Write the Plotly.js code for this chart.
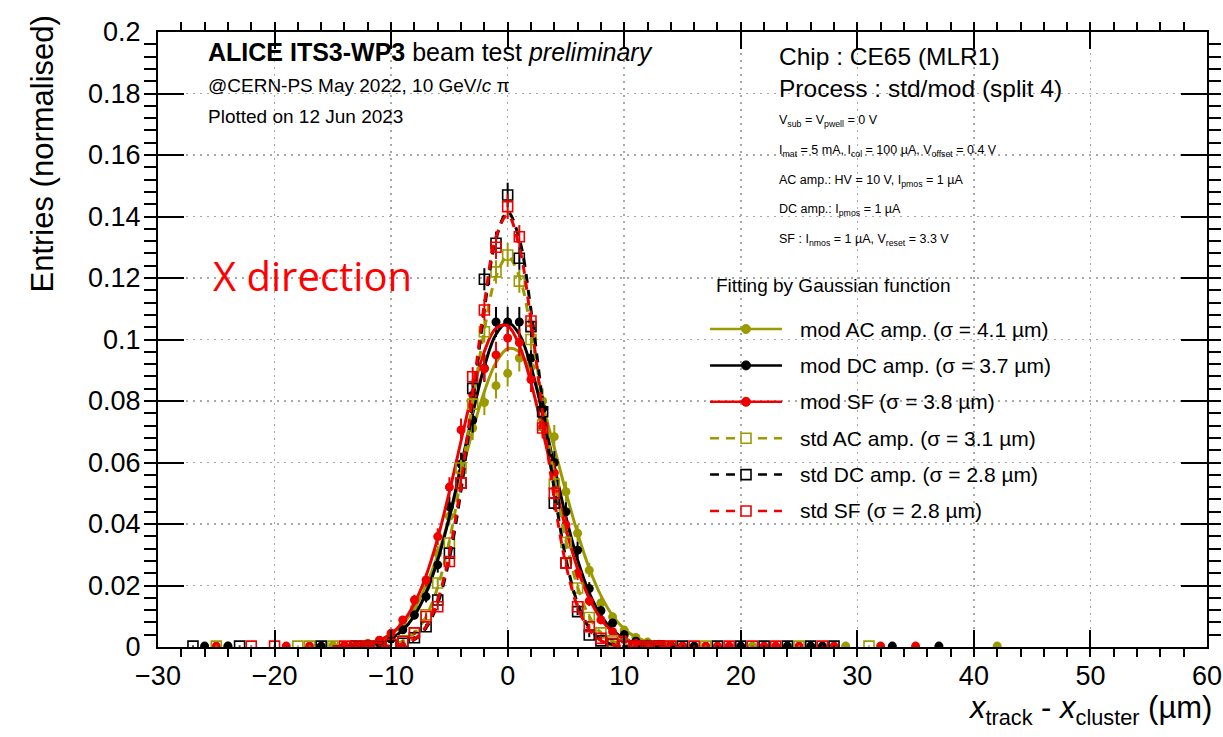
<!DOCTYPE html>
<html><head><meta charset="utf-8">
<script src="https://cdn.plot.ly/plotly-3.0.1.min.js"></script>
<style>html,body{margin:0;padding:0;background:#fff;}#chart{width:1223px;height:737px;}</style>
</head><body><div id="chart"></div>
<script>
// ---------- data ----------
const xCore = [-12,-11,-10,-9,-8,-7,-6,-5,-4,-3,-2,-1,0,1,2,3,4,5,6,7,8,9,10,11,12];

const modAC_y   = [0.0012,0.0021,0.0038,0.0072,0.0128,0.0196,0.0305,0.0425,0.0565,0.0712,0.0795,0.0850,0.0890,0.0940,0.0910,0.0800,0.0684,0.0505,0.0370,0.0250,0.0143,0.0098,0.0055,0.0031,0.0016];
const modAC_err = [0.0005,0.0007,0.0009,0.0012,0.0016,0.0020,0.0025,0.0030,0.0034,0.0039,0.0041,0.0042,0.0043,0.0044,0.0044,0.0041,0.0038,0.0033,0.0028,0.0023,0.0017,0.0014,0.0011,0.0008,0.0006];
const modAC_tailX = [-24,-15,-13,13,14,15,21,29,42];
const modAC_tailY = [0.0003,0.0004,0.0006,0.0009,0.0005,0.0004,0.0003,0.0003,0.0003];
const modAC_tailErr = [0.0002,0.0002,0.0003,0.0003,0.0002,0.0002,0.0002,0.0002,0.0002];

const modDC_y   = [0.0006,0.0012,0.0026,0.0056,0.0104,0.0164,0.0267,0.0456,0.0595,0.0738,0.0907,0.1057,0.1057,0.1057,0.0940,0.0775,0.0600,0.0440,0.0315,0.0190,0.0118,0.0078,0.0040,0.0019,0.0009];
const modDC_err = [0.0004,0.0005,0.0008,0.0011,0.0015,0.0019,0.0025,0.0032,0.0037,0.0041,0.0045,0.0049,0.0049,0.0049,0.0046,0.0042,0.0037,0.0031,0.0027,0.0021,0.0016,0.0013,0.0009,0.0007,0.0005];
const modDC_tailX = [-26,-24,-16,-14,-13,13,14,16,20,24,26,27,33,37];
const modDC_tailY = [0.0003,0.0003,0.0003,0.0003,0.0004,0.0005,0.0004,0.0003,0.0003,0.0003,0.0003,0.0003,0.0003,0.0003];
const modDC_tailErr = [0.0002,0.0002,0.0002,0.0002,0.0002,0.0003,0.0002,0.0002,0.0002,0.0002,0.0002,0.0002,0.0002,0.0002];

const modSF_y   = [0.0010,0.0022,0.0045,0.0088,0.0153,0.0218,0.0359,0.0520,0.0706,0.0820,0.0905,0.0950,0.1005,0.0990,0.0870,0.0715,0.0566,0.0397,0.0240,0.0150,0.0088,0.0050,0.0024,0.0011,0.0005];
const modSF_err = [0.0004,0.0007,0.0009,0.0013,0.0017,0.0021,0.0027,0.0032,0.0037,0.0040,0.0042,0.0043,0.0044,0.0044,0.0041,0.0037,0.0033,0.0028,0.0022,0.0017,0.0013,0.0010,0.0007,0.0005,0.0003];
const modSF_tailX = [-25,-19,-17,-14,-13,13,14,15,17,18,19,22,23,25,28,32,35];
const modSF_tailY = [0.0003,0.0003,0.0003,0.0004,0.0006,0.0004,0.0003,0.0003,0.0003,0.0003,0.0003,0.0003,0.0003,0.0003,0.0003,0.0003,0.0003];
const modSF_tailErr = [0.0002,0.0002,0.0002,0.0002,0.0003,0.0002,0.0002,0.0002,0.0002,0.0002,0.0002,0.0002,0.0002,0.0002,0.0002,0.0002,0.0002];

const stdAC_y   = [0.0002,0.0003,0.0008,0.0020,0.0046,0.0105,0.0208,0.0338,0.0582,0.0790,0.1025,0.1220,0.1275,0.1190,0.1000,0.0722,0.0530,0.0340,0.0192,0.0096,0.0046,0.0020,0.0008,0.0003,0.0002];
const stdAC_err = [0.0002,0.0002,0.0003,0.0005,0.0007,0.0011,0.0016,0.0020,0.0027,0.0031,0.0035,0.0038,0.0039,0.0038,0.0035,0.0030,0.0025,0.0020,0.0015,0.0011,0.0007,0.0005,0.0003,0.0002,0.0002];
const stdAC_tailX = [-25,-18,-17,-15,-13,13,14,17,25,31];
const stdAC_tailY = [0.0003,0.0003,0.0003,0.0003,0.0004,0.0003,0.0003,0.0003,0.0003,0.0003];
const stdAC_tailErr = [0.0002,0.0002,0.0002,0.0002,0.0002,0.0002,0.0002,0.0002,0.0002,0.0002];

const stdDC_y   = [0.0002,0.0003,0.0006,0.0012,0.0030,0.0066,0.0153,0.0305,0.0533,0.0841,0.1196,0.1313,0.1470,0.1264,0.1042,0.0765,0.0468,0.0273,0.0115,0.0039,0.0020,0.0010,0.0005,0.0003,0.0002];
const stdDC_err = [0.0002,0.0002,0.0003,0.0004,0.0006,0.0009,0.0013,0.0018,0.0024,0.0030,0.0036,0.0038,0.0040,0.0037,0.0034,0.0029,0.0023,0.0017,0.0011,0.0007,0.0005,0.0003,0.0002,0.0002,0.0002];
const stdDC_tailX = [-27,-23,-16,-13,13,15,18,20,22,24,26,28];
const stdDC_tailY = [0.0003,0.0003,0.0003,0.0003,0.0003,0.0003,0.0003,0.0003,0.0003,0.0003,0.0003,0.0003];
const stdDC_tailErr = [0.0002,0.0002,0.0002,0.0002,0.0002,0.0002,0.0002,0.0002,0.0002,0.0002,0.0002,0.0002];

const stdSF_y   = [0.0002,0.0004,0.0008,0.0018,0.0046,0.0099,0.0131,0.0278,0.0533,0.0879,0.1096,0.1300,0.1432,0.1334,0.1060,0.0712,0.0500,0.0273,0.0131,0.0066,0.0028,0.0012,0.0005,0.0003,0.0002];
const stdSF_err = [0.0002,0.0002,0.0003,0.0004,0.0007,0.0010,0.0012,0.0017,0.0024,0.0031,0.0035,0.0038,0.0040,0.0038,0.0034,0.0028,0.0023,0.0017,0.0012,0.0009,0.0006,0.0004,0.0002,0.0002,0.0002];
const stdSF_tailX = [-22,-20,-14,-13,13,14,16,19,21,23,27];
const stdSF_tailY = [0.0003,0.0003,0.0003,0.0004,0.0003,0.0003,0.0003,0.0003,0.0003,0.0003,0.0003];
const stdSF_tailErr = [0.0002,0.0002,0.0002,0.0002,0.0002,0.0002,0.0002,0.0002,0.0002,0.0002,0.0002];

// Gaussian fit curves
const fitX = [-15,-14,-13,-12,-11,-10,-9,-8,-7,-6,-5,-4,-3,-2,-1,0,1,2,3,4,5,6,7,8,9,10,11,12,13,14,15];
const modAC_fit = [0.0001,0.0002,0.0005,0.0011,0.0022,0.0042,0.0074,0.0125,0.0199,0.0299,0.0422,0.0561,0.0704,0.0831,0.0925,0.0970,0.0959,0.0893,0.0783,0.0648,0.0504,0.0370,0.0256,0.0167,0.0102,0.0059,0.0032,0.0017,0.0008,0.0004,0.0002];
const modDC_fit = [0,0.0001,0.0002,0.0006,0.0013,0.0027,0.0055,0.0102,0.0176,0.0283,0.0423,0.0588,0.0759,0.0912,0.1017,0.1055,0.1017,0.0912,0.0759,0.0588,0.0423,0.0283,0.0176,0.0102,0.0055,0.0027,0.0013,0.0006,0.0002,0.0001,0];
const modSF_fit = [0.0001,0.0002,0.0004,0.0010,0.0021,0.0043,0.0081,0.0142,0.0232,0.0354,0.0505,0.0670,0.0831,0.0961,0.1037,0.1044,0.0981,0.0860,0.0704,0.0537,0.0383,0.0254,0.0158,0.0091,0.0049,0.0025,0.0012,0.0005,0.0002,0.0001,0];
const stdAC_fit = [0,0,0,0.0001,0.0002,0.0007,0.0019,0.0045,0.0099,0.0195,0.0346,0.0552,0.0795,0.1031,0.1205,0.1270,0.1205,0.1031,0.0795,0.0552,0.0346,0.0195,0.0099,0.0045,0.0019,0.0007,0.0002,0.0001,0,0,0];
const stdDC_fit = [0,0,0,0,0.0001,0.0002,0.0008,0.0024,0.0062,0.0142,0.0287,0.0510,0.0797,0.1096,0.1327,0.1415,0.1327,0.1096,0.0797,0.0510,0.0287,0.0142,0.0062,0.0024,0.0008,0.0002,0.0001,0,0,0,0];
const stdSF_fit = [0,0,0,0,0.0001,0.0002,0.0008,0.0026,0.0067,0.0153,0.0304,0.0533,0.0822,0.1116,0.1334,0.1405,0.1301,0.1061,0.0761,0.0481,0.0267,0.0131,0.0056,0.0021,0.0007,0.0002,0.0001,0,0,0,0];

const legendLabels = ["mod AC amp. (\u03c3 = 4.1 \u00b5m)","mod DC amp. (\u03c3 = 3.7 \u00b5m)","mod SF (\u03c3 = 3.8 \u00b5m)",
                      "std AC amp. (\u03c3 = 3.1 \u00b5m)","std DC amp. (\u03c3 = 2.8 \u00b5m)","std SF (\u03c3 = 2.8 \u00b5m)"];
const xTickVals = [-30,-20,-10,0,10,20,30,40,50,60];
const yTickVals = [0,0.02,0.04,0.06,0.08,0.1,0.12,0.14,0.16,0.18,0.2];

// ---------- styles ----------
const OLIVE = '#9b9b00', BLACK = '#000000', RED = '#ee0000';
const FONT = 'Liberation Sans, Arial, Helvetica, sans-serif';
const series = [
  {y: modAC_y, e: modAC_err, tx: modAC_tailX, ty: modAC_tailY, te: modAC_tailErr, fit: modAC_fit, color: OLIVE, open: false},
  {y: modDC_y, e: modDC_err, tx: modDC_tailX, ty: modDC_tailY, te: modDC_tailErr, fit: modDC_fit, color: BLACK, open: false},
  {y: modSF_y, e: modSF_err, tx: modSF_tailX, ty: modSF_tailY, te: modSF_tailErr, fit: modSF_fit, color: RED, open: false},
  {y: stdAC_y, e: stdAC_err, tx: stdAC_tailX, ty: stdAC_tailY, te: stdAC_tailErr, fit: stdAC_fit, color: OLIVE, open: true},
  {y: stdDC_y, e: stdDC_err, tx: stdDC_tailX, ty: stdDC_tailY, te: stdDC_tailErr, fit: stdDC_fit, color: BLACK, open: true},
  {y: stdSF_y, e: stdSF_err, tx: stdSF_tailX, ty: stdSF_tailY, te: stdSF_tailErr, fit: stdSF_fit, color: RED, open: true}
];
const DASH = '9px,7px';

const traces = [];
series.forEach((s, i) => {
  traces.push({
    type: 'scatter', mode: 'markers', name: legendLabels[i], showlegend: false,
    x: xCore.concat(s.tx), y: s.y.concat(s.ty),
    error_y: {type: 'data', array: s.e.concat(s.te), visible: true, color: s.color, thickness: 2, width: 0},
    marker: s.open ? {symbol: 'square-open', size: 10, color: s.color, line: {width: 1.6, color: s.color}}
                   : {symbol: 'circle', size: 9, color: s.color, line: {width: 0}},
    cliponaxis: true
  });
  traces.push({
    type: 'scatter', mode: 'lines', name: legendLabels[i] + ' fit', showlegend: false,
    x: fitX, y: s.fit,
    line: {color: s.color, width: 3, shape: 'spline', smoothing: 1, dash: s.open ? DASH : 'solid'}
  });
});

// ---------- layout helpers (pixel -> paper) ----------
const PL = 158, PR = 1207, PT = 32, PB = 647;
const fx = p => (p - PL) / (PR - PL);
const fy = p => (PB - p) / (PB - PT);
function txt(text, xp, yp, size, extra) {
  return Object.assign({text: text, xref: 'paper', yref: 'paper', x: fx(xp), y: fy(yp),
    xanchor: 'left', yanchor: 'middle', showarrow: false,
    font: {family: FONT, size: size, color: '#000'}}, extra || {});
}

const annotations = [
  txt('<b>ALICE ITS3-WP3</b> beam test <i>preliminary</i>', 206, 52, 25),
  txt('@CERN-PS May 2022, 10 GeV/<i>c</i> \u03c0', 206, 86, 19),
  txt('Plotted on 12 Jun 2023', 206, 116, 19),
  txt('Chip : CE65 (MLR1)', 777, 56, 24.5),
  txt('Process : std/mod (split 4)', 777, 88, 24.5),
  txt('V<sub>sub</sub> = V<sub>pwell</sub> = 0 V', 777, 121, 12.5),
  txt('I<sub>mat</sub> = 5 mA, I<sub>col</sub> = 100 \u00b5A, V<sub>offset</sub> = 0.4 V', 777, 151, 12.5),
  txt('AC amp.: HV = 10 V, I<sub>pmos</sub> = 1 \u00b5A', 777, 181, 12.5),
  txt('DC amp.: I<sub>pmos</sub> = 1 \u00b5A', 777, 210, 12.5),
  txt('SF : I<sub>nmos</sub> = 1 \u00b5A, V<sub>reset</sub> = 3.3 V', 777, 240, 12.5),
  txt('X direction', 211, 275, 40, {font: {family: 'Open Sans, Noto Sans, sans-serif', size: 40, color: '#ff0000'}}),
  txt('Fitting by Gaussian function', 714, 285, 19),
  txt('<i>x</i><sub>track</sub> - <i>x</i><sub>cluster</sub> (\u00b5m)', 1214, 710, 31, {xanchor: 'right'}),
  txt('Entries (normalised)', 42, 14, 31, {xanchor: 'center', yanchor: 'top', textangle: -90})
];

const shapes = [];
const LEG_Y0 = 329, LEG_DY = 36.4;
series.forEach((s, i) => {
  const yc = LEG_Y0 + i * LEG_DY;
  shapes.push({type: 'line', xref: 'paper', yref: 'paper', x0: fx(710), x1: fx(782), y0: fy(yc), y1: fy(yc),
               line: {color: s.color, width: 2.5, dash: s.open ? DASH : 'solid'}});
  const r = s.open ? 5 : 4.5;
  shapes.push({type: s.open ? 'rect' : 'circle', xref: 'paper', yref: 'paper',
               xsizemode: 'pixel', ysizemode: 'pixel', xanchor: fx(746), yanchor: fy(yc),
               x0: -r, x1: r, y0: -r, y1: r,
               fillcolor: s.open ? '#ffffff' : s.color, line: {color: s.color, width: s.open ? 1.6 : 1}});
  annotations.push(txt(legendLabels[i], 798, yc, 21));
});

const axisCommon = {
  showline: true, linecolor: '#000', linewidth: 2, mirror: 'allticks',
  ticks: 'inside', tickcolor: '#000', tickwidth: 2,
  showgrid: true, gridcolor: '#a8a8a8', gridwidth: 1.5, griddash: '2px,5px',
  zeroline: false, tickfont: {family: FONT, size: 27, color: '#000'}
};

const layout = {
  width: 1223, height: 737,
  margin: {l: PL, r: 1223 - PR, t: PT, b: 737 - PB, pad: 0},
  paper_bgcolor: '#fff', plot_bgcolor: '#fff',
  showlegend: false,
  xaxis: Object.assign({}, axisCommon, {
    range: [-30, 60], tickmode: 'array', tickvals: xTickVals, ticklen: 17,
    minor: {dtick: 2, ticklen: 8, tickcolor: '#000', tickwidth: 2, showgrid: false},
    ticklabelstandoff: 4
  }),
  yaxis: Object.assign({}, axisCommon, {
    range: [0, 0.2], tickmode: 'array', tickvals: yTickVals, ticklen: 26,
    minor: {dtick: 0.004, ticklen: 12, tickcolor: '#000', tickwidth: 2, showgrid: false},
    ticklabelstandoff: 10
  }),
  annotations: annotations, shapes: shapes
};

Plotly.newPlot('chart', traces, layout, {displayModeBar: false, staticPlot: true});
</script>
</body></html>
